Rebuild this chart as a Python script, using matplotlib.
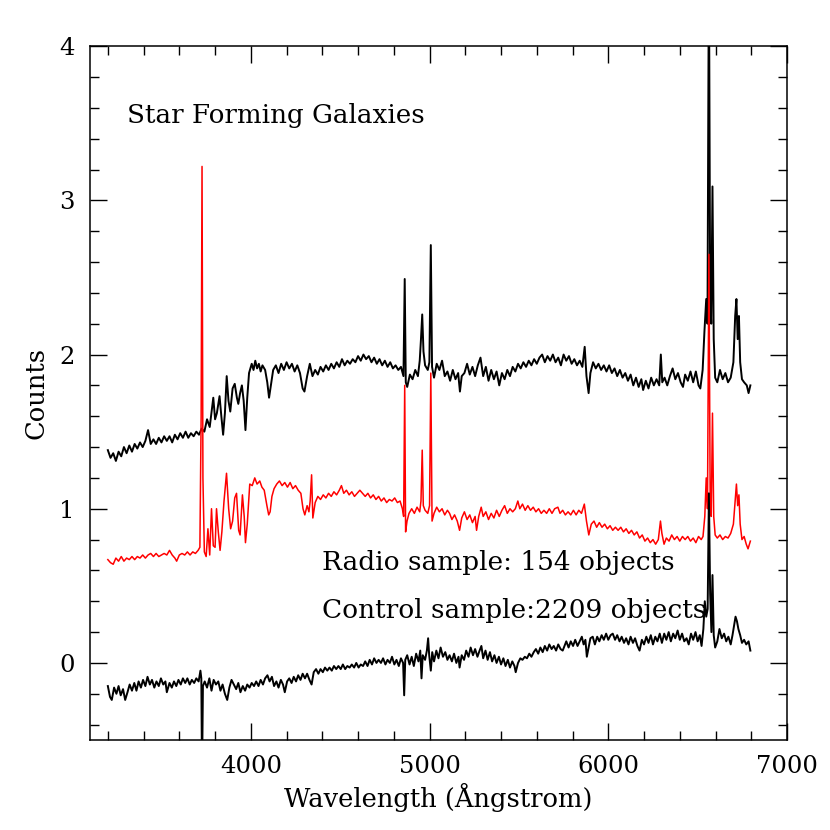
import matplotlib
matplotlib.use("Agg")
import matplotlib.pyplot as plt
from matplotlib.ticker import MultipleLocator

# composite spectra (wavelength in Angstrom, counts)
radio_wave = [3200, 3215, 3230, 3245, 3260, 3275, 3290, 3305, 3320, 3335, 3350, 3365, 3380, 3395,
              3410, 3425, 3440, 3455, 3470, 3485, 3500, 3515, 3530, 3545, 3560, 3575, 3590, 3605,
              3620, 3635, 3650, 3665, 3680, 3695, 3710, 3725, 3740, 3755, 3770, 3790, 3800, 3810,
              3825, 3835, 3845, 3855, 3865, 3875, 3885, 3898, 3910, 3922, 3930, 3940, 3950, 3960,
              3970, 3980, 3990, 4005, 4015, 4025, 4035, 4045, 4055, 4065, 4080, 4092, 4102, 4112,
              4125, 4140, 4155, 4170, 4185, 4200, 4215, 4230, 4245, 4260, 4275, 4290, 4300, 4315,
              4330, 4345, 4360, 4375, 4390, 4405, 4420, 4435, 4450, 4465, 4480, 4495, 4510, 4525,
              4540, 4555, 4570, 4585, 4600, 4615, 4630, 4645, 4660, 4675, 4690, 4705, 4720, 4735,
              4750, 4765, 4780, 4795, 4810, 4825, 4840, 4854, 4861, 4867, 4875, 4890, 4905, 4920,
              4935, 4945, 4952, 4959, 4966, 4975, 4990, 4999, 5007, 5014, 5025, 5040, 5055, 5070,
              5085, 5100, 5115, 5130, 5145, 5160, 5170, 5180, 5195, 5210, 5225, 5240, 5255, 5270,
              5285, 5300, 5315, 5330, 5345, 5360, 5375, 5390, 5405, 5420, 5435, 5450, 5465, 5480,
              5495, 5510, 5525, 5540, 5555, 5570, 5585, 5600, 5615, 5630, 5645, 5660, 5675, 5690,
              5705, 5720, 5735, 5750, 5765, 5780, 5795, 5810, 5825, 5840, 5855, 5868, 5878, 5890,
              5900, 5915, 5930, 5945, 5960, 5975, 5990, 6005, 6020, 6035, 6050, 6065, 6080, 6095,
              6110, 6125, 6140, 6155, 6170, 6185, 6195, 6210, 6225, 6240, 6255, 6270, 6285, 6294,
              6302, 6315, 6330, 6345, 6360, 6375, 6390, 6405, 6418, 6430, 6445, 6460, 6475, 6490,
              6505, 6515, 6528, 6538, 6548, 6555, 6563, 6570, 6576, 6583, 6590, 6598, 6610, 6625,
              6640, 6655, 6670, 6685, 6700, 6710, 6717, 6724, 6731, 6738, 6748, 6760, 6775, 6785,
              6795]
radio_flux = [1.38, 1.33, 1.36, 1.31, 1.37, 1.34, 1.40, 1.36, 1.41, 1.37, 1.42, 1.39, 1.43, 1.40,
              1.44, 1.51, 1.42, 1.45, 1.42, 1.46, 1.43, 1.47, 1.44, 1.47, 1.43, 1.48, 1.45, 1.49,
              1.46, 1.50, 1.46, 1.49, 1.47, 1.50, 1.48, 1.52, 1.50, 1.58, 1.53, 1.72, 1.58, 1.62,
              1.73, 1.60, 1.48, 1.62, 1.86, 1.70, 1.63, 1.78, 1.81, 1.72, 1.68, 1.75, 1.80, 1.70,
              1.51, 1.72, 1.88, 1.94, 1.90, 1.96, 1.91, 1.94, 1.89, 1.93, 1.90, 1.82, 1.72, 1.80,
              1.90, 1.93, 1.88, 1.94, 1.90, 1.95, 1.91, 1.94, 1.89, 1.93, 1.88, 1.78, 1.76, 1.86,
              1.94, 1.86, 1.90, 1.87, 1.92, 1.89, 1.93, 1.90, 1.94, 1.91, 1.95, 1.92, 1.97, 1.93,
              1.96, 1.94, 1.97, 1.95, 1.99, 1.96, 2.00, 1.97, 1.99, 1.95, 1.98, 1.94, 1.97, 1.93,
              1.96, 1.92, 1.95, 1.91, 1.93, 1.90, 1.92, 1.86, 2.49, 1.82, 1.79, 1.87, 1.84, 1.90,
              1.86, 1.96, 2.10, 2.26, 2.02, 1.93, 1.90, 1.95, 2.71, 1.92, 1.85, 1.94, 1.90, 1.96,
              1.86, 1.89, 1.83, 1.90, 1.84, 1.88, 1.76, 1.86, 1.88, 1.94, 1.87, 1.92, 1.86, 1.93,
              1.98, 1.86, 1.92, 1.83, 1.90, 1.84, 1.89, 1.80, 1.88, 1.84, 1.90, 1.86, 1.92, 1.89,
              1.94, 1.91, 1.95, 1.92, 1.96, 1.93, 1.97, 1.94, 1.98, 2.00, 1.95, 1.99, 1.96, 2.00,
              1.95, 1.98, 1.93, 2.00, 1.96, 1.99, 1.94, 1.97, 1.93, 1.96, 1.92, 2.05, 1.86, 1.75,
              1.88, 1.95, 1.91, 1.94, 1.90, 1.93, 1.89, 1.93, 1.88, 1.91, 1.86, 1.90, 1.85, 1.88,
              1.83, 1.87, 1.80, 1.85, 1.79, 1.84, 1.77, 1.83, 1.78, 1.85, 1.80, 1.84, 1.80, 2.00,
              1.82, 1.85, 1.80, 1.86, 1.91, 1.84, 1.88, 1.82, 1.79, 1.87, 1.83, 1.89, 1.82, 1.89,
              1.80, 1.78, 1.90, 2.15, 2.36, 2.20, 4.60, 2.40, 2.20, 3.09, 2.10, 1.85, 1.82, 1.90,
              1.84, 1.88, 1.82, 1.85, 1.95, 2.25, 2.36, 2.10, 2.25, 1.95, 1.84, 1.82, 1.80, 1.75,
              1.80]

control_wave = [3200, 3215, 3230, 3245, 3260, 3275, 3290, 3305, 3320, 3335, 3350, 3365, 3380, 3395,
                3410, 3425, 3440, 3455, 3470, 3485, 3500, 3515, 3530, 3545, 3560, 3575, 3585, 3600,
                3615, 3630, 3645, 3660, 3675, 3690, 3705, 3715, 3722, 3727, 3732, 3740, 3750, 3760,
                3770, 3780, 3790, 3800, 3808, 3818, 3828, 3838, 3850, 3864, 3876, 3887, 3898, 3910,
                3920, 3932, 3940, 3953, 3963, 3970, 3980, 3994, 4008, 4022, 4035, 4050, 4062, 4075,
                4090, 4100, 4108, 4118, 4130, 4145, 4160, 4175, 4190, 4205, 4220, 4235, 4250, 4265,
                4280, 4292, 4302, 4315, 4325, 4332, 4340, 4347, 4360, 4375, 4390, 4405, 4420, 4435,
                4450, 4465, 4480, 4495, 4507, 4520, 4535, 4550, 4565, 4580, 4595, 4610, 4625, 4640,
                4655, 4670, 4685, 4700, 4715, 4730, 4745, 4760, 4775, 4790, 4805, 4820, 4835, 4848,
                4855, 4861, 4866, 4874, 4885, 4900, 4915, 4930, 4945, 4952, 4959, 4965, 4975, 4990,
                5000, 5007, 5014, 5025, 5040, 5055, 5070, 5085, 5100, 5112, 5125, 5140, 5155, 5168,
                5180, 5195, 5210, 5225, 5240, 5255, 5263, 5275, 5289, 5300, 5315, 5330, 5345, 5360,
                5375, 5390, 5405, 5420, 5435, 5450, 5465, 5480, 5494, 5505, 5520, 5535, 5550, 5565,
                5580, 5595, 5610, 5625, 5640, 5655, 5670, 5685, 5700, 5718, 5730, 5745, 5760, 5775,
                5790, 5805, 5820, 5835, 5850, 5866, 5878, 5891, 5905, 5920, 5935, 5950, 5965, 5980,
                5995, 6010, 6025, 6040, 6055, 6070, 6085, 6100, 6115, 6130, 6145, 6160, 6175, 6190,
                6205, 6220, 6235, 6250, 6265, 6280, 6292, 6300, 6312, 6325, 6340, 6355, 6370, 6385,
                6400, 6415, 6430, 6445, 6460, 6475, 6490, 6505, 6520, 6530, 6540, 6548, 6555, 6563,
                6570, 6576, 6583, 6590, 6598, 6610, 6625, 6640, 6655, 6670, 6685, 6700, 6710, 6717,
                6724, 6731, 6738, 6748, 6760, 6772, 6782, 6795]
control_flux = [0.67, 0.65, 0.64, 0.68, 0.66, 0.69, 0.66, 0.68, 0.67, 0.69, 0.67, 0.69, 0.68, 0.70,
                0.68, 0.70, 0.71, 0.69, 0.71, 0.69, 0.70, 0.71, 0.70, 0.73, 0.70, 0.68, 0.66, 0.70,
                0.71, 0.70, 0.72, 0.70, 0.72, 0.71, 0.73, 0.75, 1.60, 3.22, 1.20, 0.72, 0.69, 0.87,
                0.70, 1.00, 0.76, 0.75, 1.00, 0.85, 0.73, 0.85, 1.05, 1.23, 1.00, 0.87, 0.92, 1.07,
                1.10, 0.86, 0.83, 1.09, 0.95, 0.78, 0.90, 1.16, 1.15, 1.20, 1.16, 1.18, 1.14, 1.12,
                1.02, 0.96, 0.98, 1.08, 1.13, 1.16, 1.18, 1.15, 1.17, 1.14, 1.17, 1.13, 1.15, 1.12,
                1.10, 1.00, 0.96, 1.02, 0.98, 1.05, 1.22, 0.94, 1.04, 1.08, 1.06, 1.09, 1.07, 1.10,
                1.08, 1.11, 1.09, 1.12, 1.15, 1.10, 1.12, 1.09, 1.11, 1.08, 1.10, 1.12, 1.10, 1.08,
                1.10, 1.07, 1.09, 1.06, 1.08, 1.05, 1.07, 1.04, 1.06, 1.05, 1.07, 1.04, 1.05, 1.00,
                0.95, 1.80, 0.85, 0.92, 0.97, 1.00, 0.97, 1.01, 0.98, 1.05, 1.38, 1.02, 0.99, 0.97,
                1.02, 1.88, 0.92, 0.97, 1.01, 0.98, 1.00, 0.96, 0.99, 0.97, 0.93, 0.96, 0.92, 0.86,
                0.94, 0.98, 0.93, 0.96, 0.91, 0.95, 0.86, 0.95, 1.01, 0.95, 0.98, 0.93, 0.97, 0.94,
                0.99, 0.95, 0.99, 1.02, 0.97, 1.00, 0.98, 1.00, 1.05, 1.00, 1.03, 0.99, 1.02, 0.99,
                1.01, 0.98, 1.00, 0.97, 0.99, 0.97, 1.00, 0.97, 1.00, 1.01, 0.97, 0.99, 0.96, 0.98,
                0.96, 0.99, 0.96, 0.99, 0.97, 1.03, 0.92, 0.83, 0.90, 0.92, 0.88, 0.91, 0.88, 0.90,
                0.87, 0.89, 0.86, 0.88, 0.86, 0.88, 0.85, 0.87, 0.84, 0.86, 0.83, 0.85, 0.81, 0.83,
                0.79, 0.81, 0.78, 0.80, 0.77, 0.80, 0.92, 0.84, 0.77, 0.81, 0.79, 0.83, 0.80, 0.82,
                0.79, 0.82, 0.80, 0.82, 0.79, 0.81, 0.78, 0.82, 0.80, 0.82, 0.95, 1.20, 1.00, 2.65,
                1.10, 0.95, 1.62, 0.95, 0.83, 0.81, 0.83, 0.80, 0.82, 0.81, 0.84, 0.90, 1.05, 1.16,
                1.02, 1.09, 0.90, 0.80, 0.82, 0.77, 0.74, 0.79]

diff_wave = [3200, 3212, 3222, 3235, 3248, 3260, 3272, 3285, 3297, 3310, 3322, 3335, 3348, 3360,
             3372, 3385, 3397, 3410, 3422, 3435, 3447, 3460, 3472, 3485, 3497, 3510, 3522, 3530,
             3545, 3558, 3570, 3583, 3595, 3608, 3620, 3633, 3645, 3658, 3670, 3683, 3695, 3708,
             3718, 3723, 3727, 3732, 3742, 3755, 3768, 3780, 3792, 3805, 3818, 3830, 3842, 3855,
             3868, 3880, 3892, 3905, 3918, 3930, 3942, 3955, 3968, 3980, 3993, 4005, 4018, 4030,
             4043, 4055, 4068, 4080, 4093, 4105, 4118, 4130, 4143, 4155, 4168, 4180, 4190, 4203,
             4215, 4228, 4240, 4253, 4265, 4278, 4290, 4303, 4315, 4328, 4340, 4352, 4365, 4378,
             4390, 4403, 4415, 4428, 4440, 4453, 4465, 4478, 4490, 4503, 4515, 4528, 4540, 4553,
             4565, 4578, 4590, 4603, 4615, 4628, 4640, 4653, 4665, 4678, 4690, 4703, 4715, 4728,
             4740, 4753, 4765, 4778, 4790, 4803, 4815, 4828, 4840, 4852, 4858, 4864, 4875, 4888,
             4900, 4912, 4925, 4938, 4948, 4955, 4962, 4975, 4985, 4992, 4998, 5007, 5015, 5025,
             5038, 5050, 5062, 5075, 5088, 5100, 5112, 5125, 5137, 5150, 5162, 5168, 5180, 5193,
             5205, 5218, 5230, 5243, 5255, 5268, 5280, 5290, 5300, 5313, 5325, 5338, 5350, 5363,
             5375, 5388, 5400, 5413, 5425, 5438, 5450, 5463, 5475, 5482, 5495, 5508, 5520, 5533,
             5545, 5558, 5570, 5583, 5595, 5608, 5620, 5633, 5645, 5658, 5670, 5683, 5695, 5708,
             5720, 5733, 5745, 5758, 5765, 5778, 5790, 5803, 5815, 5828, 5840, 5852, 5862, 5872,
             5880, 5890, 5900, 5913, 5925, 5938, 5950, 5963, 5975, 5988, 6000, 6013, 6025, 6038,
             6050, 6063, 6075, 6088, 6100, 6113, 6125, 6138, 6150, 6163, 6175, 6188, 6200, 6213,
             6225, 6238, 6250, 6263, 6275, 6288, 6300, 6313, 6325, 6338, 6350, 6363, 6375, 6388,
             6400, 6413, 6425, 6438, 6450, 6463, 6475, 6488, 6500, 6512, 6522, 6532, 6540, 6548,
             6556, 6563, 6570, 6577, 6583, 6590, 6598, 6610, 6622, 6635, 6648, 6660, 6672, 6685,
             6695, 6705, 6712, 6720, 6728, 6738, 6748, 6760, 6772, 6785, 6795]
diff_flux = [-0.15, -0.22, -0.24, -0.16, -0.20, -0.15, -0.21, -0.17, -0.24, -0.19, -0.14, -0.18,
             -0.13, -0.18, -0.12, -0.16, -0.11, -0.15, -0.09, -0.14, -0.11, -0.16, -0.12, -0.15,
             -0.10, -0.14, -0.12, -0.19, -0.13, -0.16, -0.12, -0.15, -0.11, -0.14, -0.10, -0.13,
             -0.10, -0.14, -0.11, -0.13, -0.10, -0.12, -0.05, -0.10, -0.75, -0.15, -0.12, -0.16,
             -0.10, -0.18, -0.11, -0.14, -0.12, -0.18, -0.14, -0.20, -0.24, -0.16, -0.11, -0.14,
             -0.17, -0.13, -0.19, -0.15, -0.18, -0.14, -0.16, -0.13, -0.15, -0.12, -0.15, -0.11,
             -0.14, -0.10, -0.08, -0.12, -0.09, -0.15, -0.12, -0.16, -0.11, -0.14, -0.19, -0.12,
             -0.10, -0.13, -0.09, -0.12, -0.08, -0.11, -0.07, -0.10, -0.07, -0.11, -0.14, -0.06,
             -0.04, -0.07, -0.04, -0.06, -0.03, -0.05, -0.03, -0.05, -0.02, -0.04, -0.02, -0.04,
             -0.01, -0.04, -0.02, -0.03, -0.01, -0.03, 0.00, -0.03, -0.01, -0.02, 0.01, -0.02,
             0.02, -0.01, 0.03, 0.00, 0.02, 0.00, 0.03, -0.01, 0.02, 0.00, 0.04, -0.01,
             0.02, -0.02, 0.03, 0.00, -0.21, 0.02, 0.05, -0.01, 0.04, -0.02, 0.06, 0.01,
             0.08, -0.10, 0.05, 0.02, 0.08, 0.16, 0.05, -0.05, 0.07, 0.01, 0.08, 0.03,
             0.10, 0.04, 0.07, 0.02, 0.05, 0.01, 0.06, 0.00, 0.04, -0.03, 0.05, 0.02,
             0.08, 0.04, 0.10, 0.05, 0.09, 0.04, 0.08, 0.11, 0.03, 0.08, 0.02, 0.07,
             0.01, 0.05, 0.00, 0.04, -0.01, 0.03, -0.02, 0.02, -0.03, 0.01, -0.02, -0.06,
             0.00, 0.03, 0.02, 0.04, 0.03, 0.06, 0.04, 0.07, 0.09, 0.06, 0.10, 0.07,
             0.11, 0.08, 0.12, 0.09, 0.11, 0.08, 0.12, 0.09, 0.08, 0.12, 0.14, 0.10,
             0.14, 0.11, 0.15, 0.11, 0.14, 0.17, 0.12, 0.15, 0.04, 0.10, 0.16, 0.17,
             0.12, 0.17, 0.14, 0.18, 0.15, 0.19, 0.15, 0.18, 0.19, 0.15, 0.18, 0.14,
             0.17, 0.13, 0.16, 0.12, 0.17, 0.13, 0.16, 0.11, 0.08, 0.15, 0.12, 0.17,
             0.13, 0.18, 0.12, 0.17, 0.14, 0.19, 0.13, 0.19, 0.15, 0.20, 0.14, 0.19,
             0.16, 0.21, 0.15, 0.19, 0.14, 0.16, 0.12, 0.19, 0.15, 0.20, 0.14, 0.18,
             0.11, 0.22, 0.40, 0.30, 0.35, 1.10, 0.45, 0.20, 0.57, 0.18, 0.10, 0.14,
             0.22, 0.16, 0.19, 0.14, 0.17, 0.12, 0.18, 0.25, 0.30, 0.27, 0.22, 0.18,
             0.13, 0.15, 0.12, 0.14, 0.08]

title_text = "Star Forming Galaxies"
radio_label = "Radio sample: 154 objects"
control_label = "Control sample:2209 objects"

plt.rcParams['font.family'] = ['DejaVu Serif']

fig = plt.figure(figsize=(8.3, 8.3), dpi=100)
ax = fig.add_axes([0.1084, 0.1084, 0.8398, 0.836])

ax.plot(radio_wave, radio_flux, color='black', lw=1.4)
ax.plot(control_wave, control_flux, color='red', lw=1.1)
ax.plot(diff_wave, diff_flux, color='black', lw=1.4)

ax.set_xlim(3100, 7000)
ax.set_ylim(-0.5, 4)

ax.xaxis.set_major_locator(MultipleLocator(1000))
ax.xaxis.set_minor_locator(MultipleLocator(200))
ax.yaxis.set_major_locator(MultipleLocator(1))
ax.yaxis.set_minor_locator(MultipleLocator(0.2))
ax.tick_params(which='both', direction='in', top=True, right=True, width=1.0)
ax.tick_params(which='major', length=12, labelsize=17.5)
ax.tick_params(which='minor', length=6.5)
ax.tick_params(axis='x', which='major', pad=11)
ax.tick_params(axis='y', which='major', pad=11)
for s in ax.spines.values():
    s.set_linewidth(1.1)

ax.set_xlabel("Wavelength (Ångstrom)", fontsize=18.5, labelpad=3)
ax.set_ylabel("Counts", fontsize=18.5, labelpad=8)

ax.text(3305, 3.50, title_text, fontsize=18.8, ha='left', va='baseline')
ax.text(4398, 0.60, radio_label, fontsize=19, ha='left', va='baseline')
ax.text(4398, 0.29, control_label, fontsize=19, ha='left', va='baseline')

fig.savefig("out.png", dpi=100)
